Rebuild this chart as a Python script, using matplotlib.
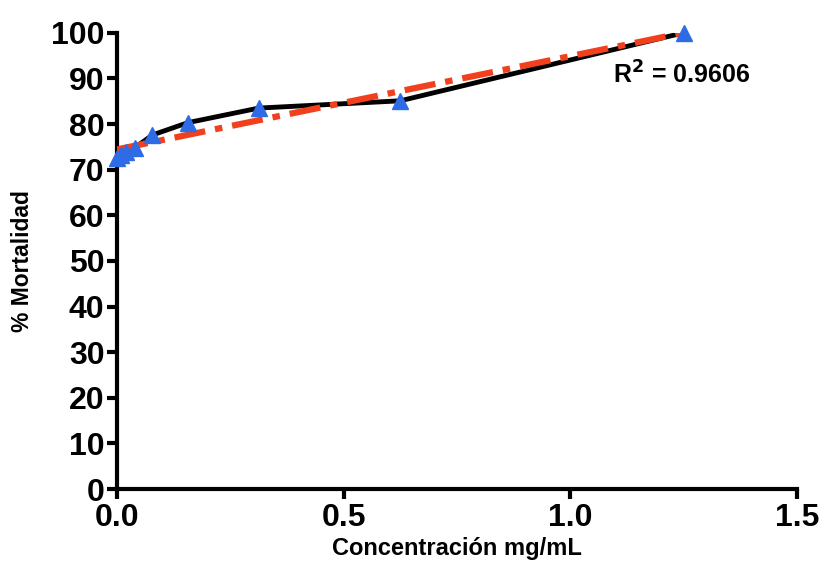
import matplotlib
import numpy as np

matplotlib.use('Agg')
import matplotlib.pyplot as plt

# datos
concentracion = [0.0, 0.0098, 0.0195, 0.039, 0.078, 0.156, 0.3125, 0.625, 1.25]
mortalidad = [72.6, 73.2, 73.8, 74.8, 77.6, 80.3, 83.5, 85.1, 100.0]
x_ticks = [0.0, 0.5, 1.0, 1.5]
x_tick_labels = ['0.0', '0.5', '1.0', '1.5']
y_ticks = [0, 10, 20, 30, 40, 50, 60, 70, 80, 90, 100]
r2_text = 'R$^2$ = 0.9606'

plt.rcParams['font.family'] = ['Liberation Sans', 'DejaVu Sans']
plt.rcParams['font.weight'] = 'bold'
plt.rcParams['mathtext.default'] = 'bf'

fig = plt.figure(figsize=(8.24, 5.66), dpi=100)
ax = fig.add_axes([0.142, 0.136, 0.825, 0.806])

# regresion lineal
pendiente, intercepto = np.polyfit(concentracion, mortalidad, 1)
tx = np.array([0.0, max(concentracion)])
fx = intercepto + pendiente * tx

ax.plot(concentracion, mortalidad, color='black', lw=3.5, zorder=2)
ax.plot(tx, fx, color='#f0401e', lw=4.5, linestyle=(0, (5, 1.6, 1.2, 1.6)), zorder=3)
ax.plot(concentracion, mortalidad, linestyle='none', marker='^', markersize=11,
        color='#2e6be6', zorder=4, clip_on=False)

ax.set_xlim(0, 1.5)
ax.set_ylim(0, 100)
ax.set_xticks(x_ticks)
ax.set_xticklabels(x_tick_labels)
ax.set_yticks(y_ticks)

for side in ['top', 'right']:
    ax.spines[side].set_visible(False)
for side in ['left', 'bottom']:
    ax.spines[side].set_linewidth(3)

ax.tick_params(axis='both', width=3, length=7, labelsize=23)
ax.tick_params(axis='x', pad=3)
ax.tick_params(axis='y', pad=2)
for lab in ax.get_xticklabels() + ax.get_yticklabels():
    lab.set_fontweight('bold')

ax.set_xlabel('Concentración mg/mL', fontsize=17, fontweight='bold', labelpad=3)
ax.set_ylabel('% Mortalidad', fontsize=16.5, fontweight='bold', labelpad=12)

ax.text(1.095, 90.8, r2_text, fontsize=18, fontweight='bold', ha='left', va='center')

plt.savefig('out.png', dpi=100)
